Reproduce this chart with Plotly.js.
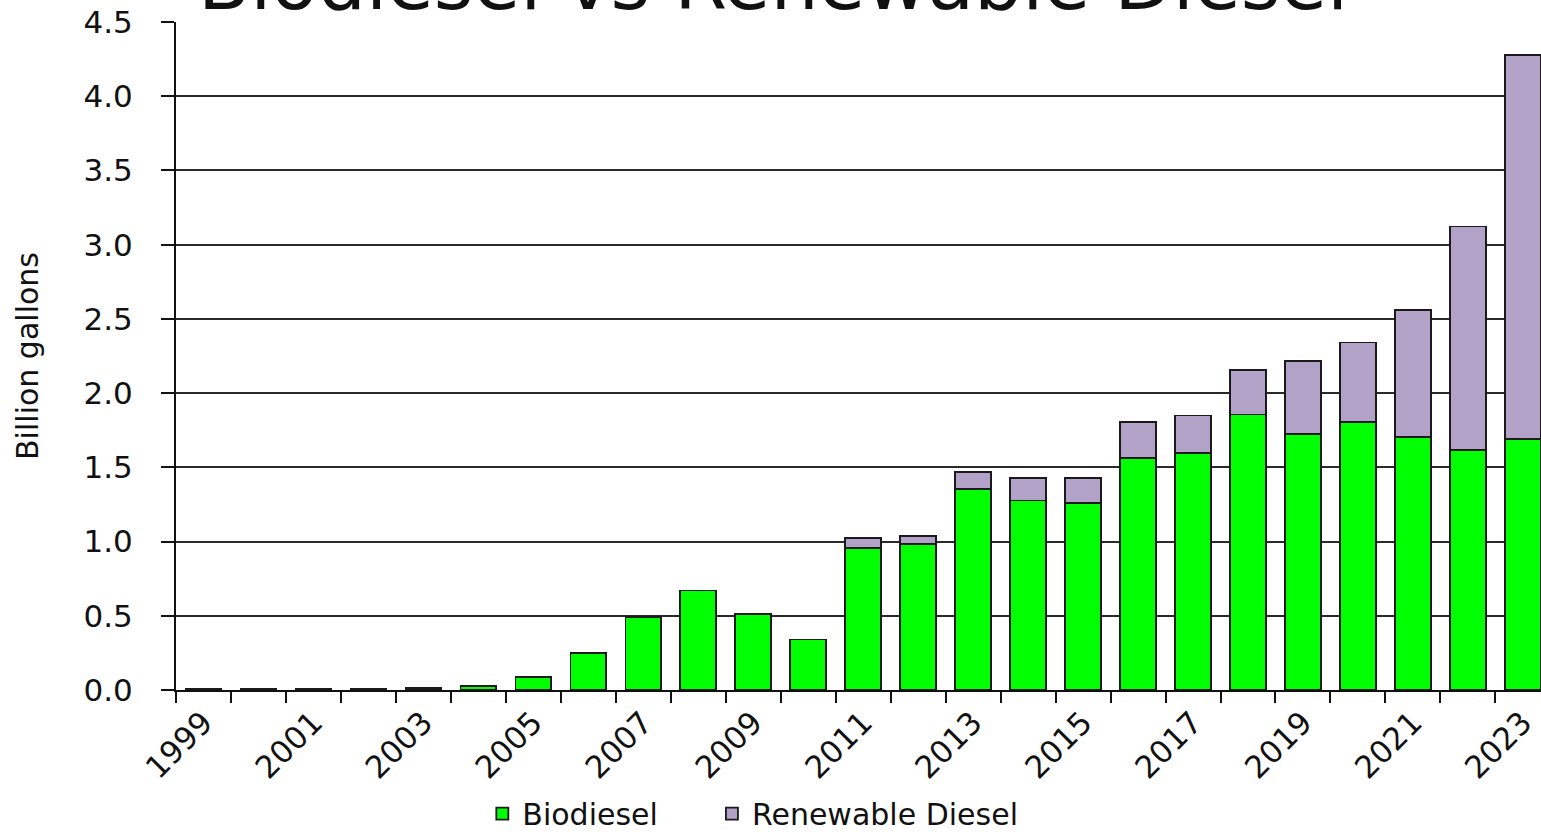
<!DOCTYPE html>
<html>
<head>
<meta charset="utf-8">
<script src="https://cdn.plot.ly/plotly-3.0.1.min.js"></script>
<style>html,body{margin:0;padding:0;background:#fff;}#chart{width:1541px;height:832px;}</style>
</head>
<body>
<div id="chart"></div>
<script>
const years = [1999,2000,2001,2002,2003,2004,2005,2006,2007,2008,2009,2010,2011,2012,2013,2014,2015,2016,2017,2018,2019,2020,2021,2022,2023];
const biodiesel = [0.005,0.005,0.005,0.005,0.015,0.027,0.09,0.25,0.49,0.67,0.51,0.34,0.955,0.986,1.354,1.276,1.258,1.565,1.597,1.856,1.723,1.808,1.702,1.615,1.692];
const renewableDiesel = [0,0,0,0,0,0,0,0,0,0,0,0,0.071,0.052,0.115,0.154,0.172,0.241,0.252,0.301,0.492,0.533,0.857,1.507,2.588];
const yTicks = [0,0.5,1.0,1.5,2.0,2.5,3.0,3.5,4.0,4.5];
const titleText = "Biodiesel vs Renewable Diesel";
const yTitle = "Billion gallons";

const FONT = "DejaVu Sans, Arial, sans-serif";

const traces = [
  {type:'bar', name:'Biodiesel', x:years, y:biodiesel, legend:'legend',
   marker:{color:'#00FF00', line:{color:'#1a1a1a', width:1.8}}},
  {type:'bar', name:'Renewable Diesel', x:years, y:renewableDiesel, legend:'legend2',
   marker:{color:'#B3A2C7', line:{color:'#1a1a1a', width:1.8}}}
];

const legendBase = {orientation:'h', xref:'container', xanchor:'left', yref:'container', yanchor:'middle', y:0.022,
  font:{family:FONT, size:30, color:'#111'}, itemwidth:30, bgcolor:'rgba(0,0,0,0)'};

const layout = {
  width:1541, height:832,
  margin:{l:176, r:0, t:22, b:142, pad:0, autoexpand:false},
  barmode:'stack', bargap:0.35,
  paper_bgcolor:'#fff', plot_bgcolor:'#fff',
  font:{family:FONT, color:'#111', size:30},
  showlegend:true,
  legend:Object.assign({}, legendBase, {x:0.313}),
  legend2:Object.assign({}, legendBase, {x:0.462}),
  xaxis:{type:'linear', range:[1998.5, 2023.33], tick0:1999, dtick:2, ticks:'',
         automargin:false,
         tickangle:-45, tickfont:{family:FONT, size:31, color:'#111'},
         showgrid:false, zeroline:false, showline:true, linecolor:'#111', linewidth:2,
         minor:{tick0:1998.5, dtick:1, ticks:'outside', ticklen:11, tickwidth:2, tickcolor:'#111', showgrid:false}},
  yaxis:{range:[0,4.5], tickmode:'array', tickvals:yTicks, tickformat:'.1f',
         automargin:false,
         ticks:'outside', ticklen:13, tickwidth:2, tickcolor:'#111',
         ticklabelstandoff:22,
         tickfont:{family:FONT, size:31, color:'#111'},
         showgrid:true, gridcolor:'#2a2a2a', gridwidth:2,
         zeroline:false, showline:true, linecolor:'#111', linewidth:2,
         title:{text:yTitle, font:{family:FONT, size:30, color:'#111'}, standoff:36}},
  annotations:[
    {text:titleText, xref:'paper', yref:'paper', x:0.4375, y:0.99, xanchor:'center', yanchor:'bottom',
     showarrow:false, font:{family:FONT, size:76, color:'#111'}}
  ]
};

Plotly.newPlot('chart', traces, layout, {displayModeBar:false, staticPlot:true});
</script>
</body>
</html>
